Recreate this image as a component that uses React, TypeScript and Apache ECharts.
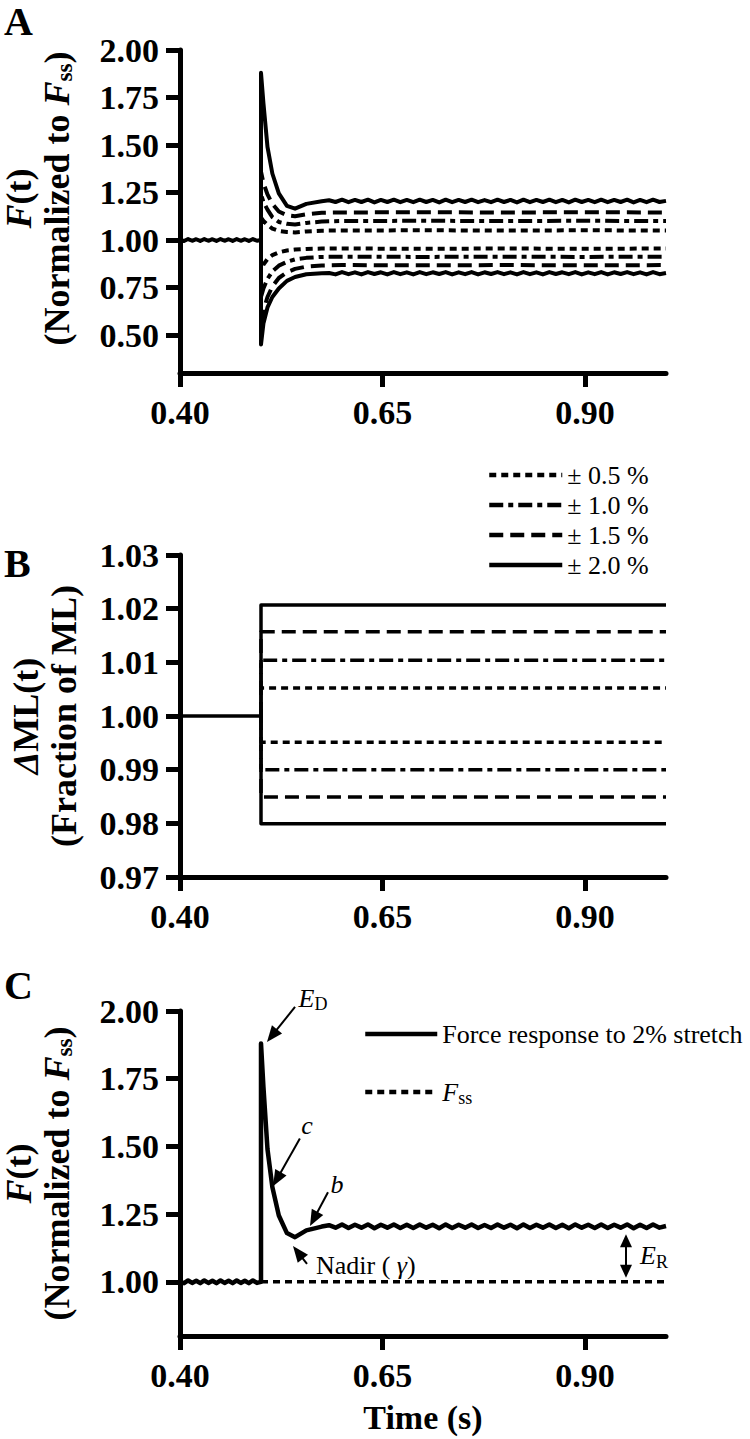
import React, { useEffect, useRef } from 'react';
import * as echarts from 'echarts';

// ---------------- DATA ----------------
const xTicks = [0.40, 0.65, 0.90];
const yTicksA = [0.50, 0.75, 1.00, 1.25, 1.50, 1.75, 2.00];
const yTicksB = [0.97, 0.98, 0.99, 1.00, 1.01, 1.02, 1.03];
const yTicksC = [1.00, 1.25, 1.50, 1.75, 2.00];

// pre-stretch force (normalized), t in s
const preT = [0.400, 0.405, 0.410, 0.415, 0.420, 0.425, 0.430, 0.435, 0.440, 0.445, 0.450,
  0.455, 0.460, 0.465, 0.470, 0.475, 0.480, 0.485, 0.490, 0.495, 0.500];
const preF = [1.000, 0.995, 1.005, 0.996, 1.004, 0.995, 1.005, 0.996, 1.004, 0.995, 1.005,
  0.996, 1.004, 0.995, 1.005, 0.996, 1.004, 0.995, 1.005, 0.996, 1.000];

// transient right after the stretch at t = 0.50 s
const decayT = [0.500, 0.500, 0.503, 0.508, 0.514, 0.522, 0.532, 0.542, 0.556, 0.575];
const up20Decay = [1.000, 1.880, 1.720, 1.490, 1.350, 1.245, 1.180, 1.165, 1.190, 1.204];
const up15Decay = [1.000, 1.360, 1.300, 1.240, 1.190, 1.150, 1.130, 1.125, 1.135, 1.143];
const up10Decay = [1.000, 1.240, 1.200, 1.160, 1.120, 1.095, 1.085, 1.082, 1.090, 1.097];
const up05Decay = [1.000, 1.120, 1.100, 1.080, 1.060, 1.048, 1.042, 1.040, 1.045, 1.049];
const dn05Decay = [1.000, 0.840, 0.870, 0.900, 0.920, 0.935, 0.945, 0.950, 0.953, 0.955];
const dn10Decay = [1.000, 0.700, 0.745, 0.795, 0.835, 0.865, 0.885, 0.898, 0.906, 0.911];
const dn15Decay = [1.000, 0.560, 0.630, 0.700, 0.755, 0.800, 0.830, 0.848, 0.860, 0.866];
const dn20Decay = [1.000, 0.450, 0.560, 0.645, 0.700, 0.745, 0.785, 0.805, 0.820, 0.825];

// steady state (with small oscillation) for the 2% stretch
const tailT = [0.584, 0.592, 0.600, 0.608, 0.616, 0.624, 0.632, 0.640, 0.648, 0.656,
  0.664, 0.672, 0.680, 0.688, 0.696, 0.704, 0.712, 0.720, 0.728, 0.736,
  0.744, 0.752, 0.760, 0.768, 0.776, 0.784, 0.792, 0.800, 0.808, 0.816,
  0.824, 0.832, 0.840, 0.848, 0.856, 0.864, 0.872, 0.880, 0.888, 0.896,
  0.904, 0.912, 0.920, 0.928, 0.936, 0.944, 0.952, 0.960, 0.968, 0.976,
  0.984, 0.992, 1.000];
const up20Tail = [1.209, 1.200, 1.212, 1.199, 1.211, 1.200, 1.212, 1.198, 1.211, 1.200,
  1.212, 1.199, 1.211, 1.199, 1.212, 1.200, 1.211, 1.198, 1.212, 1.199,
  1.211, 1.200, 1.212, 1.199, 1.210, 1.199, 1.212, 1.200, 1.211, 1.198,
  1.212, 1.199, 1.211, 1.200, 1.212, 1.199, 1.211, 1.198, 1.212, 1.200,
  1.211, 1.199, 1.212, 1.199, 1.211, 1.200, 1.212, 1.198, 1.211, 1.199,
  1.212, 1.200, 1.206];
const dn20Tail = [0.826, 0.819, 0.831, 0.820, 0.830, 0.819, 0.831, 0.821, 0.830, 0.819,
  0.831, 0.820, 0.830, 0.819, 0.831, 0.820, 0.830, 0.821, 0.831, 0.819,
  0.830, 0.820, 0.831, 0.819, 0.830, 0.821, 0.831, 0.820, 0.830, 0.819,
  0.831, 0.820, 0.830, 0.819, 0.831, 0.821, 0.830, 0.820, 0.831, 0.819,
  0.830, 0.820, 0.831, 0.819, 0.830, 0.821, 0.831, 0.820, 0.830, 0.819,
  0.831, 0.820, 0.826];

// steady state of the smaller stretches
const tailCoarseT = [0.60, 0.70, 0.80, 0.90, 1.00];
const up15Tail = [1.145, 1.146, 1.145, 1.146, 1.145];
const up10Tail = [1.100, 1.101, 1.100, 1.101, 1.100];
const up05Tail = [1.050, 1.051, 1.050, 1.051, 1.050];
const dn05Tail = [0.955, 0.954, 0.955, 0.954, 0.955];
const dn10Tail = [0.912, 0.911, 0.912, 0.911, 0.912];
const dn15Tail = [0.868, 0.867, 0.868, 0.867, 0.868];

// panel B: muscle length steps
const stretchLabels = ['± 0.5 %', '± 1.0 %', '± 1.5 %', '± 2.0 %'];
const stepUp = [1.0052, 1.0104, 1.0157, 1.0207];
const stepDown = [0.9951, 0.9900, 0.9849, 0.9799];
const stepT = [0.500, 0.500, 1.000];
const mlPreT = [0.400, 0.500];
const mlPreV = [1.000, 1.000];

// panel C: steady-state force reference
const fssT = [0.500, 1.000];
const fssV = [1.000, 1.000];

// ---------------- STYLE ----------------
const SERIF = '"Liberation Serif", "Times New Roman", serif';
const DOT = [7, 5];
const DASHDOT = [14, 5, 5, 5];
const DASH = [14, 7];
const dashes = [DOT, DASHDOT, DASH, 'solid'];

const pairs = (ts: number[], vs: number[]) => ts.map((t, i) => [t, vs[i]]);

const line = (name: string, idx: number, data: number[][], width: number, type: any) => ({
  type: 'line',
  name,
  xAxisIndex: idx,
  yAxisIndex: idx,
  data,
  symbol: 'none',
  showSymbol: false,
  silent: true,
  emphasis: { disabled: true },
  itemStyle: { color: '#000' },
  lineStyle: { color: '#000', width, type, join: 'round', cap: 'butt' },
});

const axisLineStyle = { show: true, onZero: false, lineStyle: { color: '#000', width: 5, cap: 'round' } };
const tickStyle = (vals: number[]) => ({
  show: true, inside: false, length: 14, customValues: vals,
  lineStyle: { color: '#000', width: 5 },
});
const labelStyle = (vals: number[], margin: number) => ({
  show: true, customValues: vals, margin, color: '#000',
  fontFamily: SERIF, fontWeight: 'bold', fontSize: 34,
  formatter: (v: number) => v.toFixed(2),
});

const nameRich = {
  b: { fontFamily: SERIF, fontWeight: 'bold', fontSize: 36, lineHeight: 38, color: '#000' },
  it: { fontFamily: SERIF, fontWeight: 'bold', fontStyle: 'italic', fontSize: 36, lineHeight: 38, color: '#000' },
  sub: { fontFamily: SERIF, fontWeight: 'bold', fontSize: 23, verticalAlign: 'bottom', color: '#000' },
};

const forceName = '{it|F}{b|(t)}\n{b|(Normalized to }{it|F}{sub|ss}{b|)}';
const mlName = '{it|Δ}{b|ML(t)}\n{b|(Fraction of ML)}';

// annotation anchors (data coordinates of panel C)
const annot = {
  ed: { label: [0.5642, 2.048], tail: [0.542, 2.015], tip: [0.5074, 1.886] },
  c: { label: [0.5568, 1.577], tail: [0.548, 1.529], tip: [0.5148, 1.353] },
  b: { label: [0.5938, 1.360], tail: [0.5827, 1.331], tip: [0.5605, 1.206] },
  nadir: { label: [0.5679, 1.059], tail: [0.5568, 1.066], tip: [0.5395, 1.132] },
  er: { label: [0.968, 1.096], top: [0.9506, 1.176], bottom: [0.9506, 1.015] },
};

function arrowEls(p0: number[], p1: number[], both = false, H = 16, W = 6.5) {
  const dx = p1[0] - p0[0];
  const dy = p1[1] - p0[1];
  const L = Math.hypot(dx, dy);
  const ux = dx / L, uy = dy / L;
  const px = -uy, py = ux;
  const head = (tx: number, ty: number, vx: number, vy: number) => ({
    type: 'polygon',
    silent: true,
    shape: {
      points: [
        [tx, ty],
        [tx - vx * H + px * W, ty - vy * H + py * W],
        [tx - vx * H - px * W, ty - vy * H - py * W],
      ],
    },
    style: { fill: '#000' },
  });
  const s = both ? [p0[0] + ux * H * 0.8, p0[1] + uy * H * 0.8] : p0;
  const e = [p1[0] - ux * H * 0.8, p1[1] - uy * H * 0.8];
  const els: any[] = [
    { type: 'line', silent: true, shape: { x1: s[0], y1: s[1], x2: e[0], y2: e[1] }, style: { stroke: '#000', lineWidth: 2 } },
    head(p1[0], p1[1], ux, uy),
  ];
  if (both) els.push(head(p0[0], p0[1], -ux, -uy));
  return els;
}

const annRich = {
  i: { fontFamily: SERIF, fontStyle: 'italic', fontSize: 26, lineHeight: 30, color: '#000' },
  r: { fontFamily: SERIF, fontSize: 26, lineHeight: 30, color: '#000' },
  s: { fontFamily: SERIF, fontSize: 18, verticalAlign: 'bottom', color: '#000' },
};

function textEl(p: number[], text: string, align: string) {
  return {
    type: 'text', silent: true, x: p[0], y: p[1],
    style: {
      text, rich: annRich, fill: '#000', fontFamily: SERIF, fontSize: 26,
      align, textAlign: align, verticalAlign: 'middle', textVerticalAlign: 'middle',
    },
  };
}

function letterEl(text: string, y: number, va: string) {
  return {
    type: 'text', silent: true, x: 4, y,
    style: {
      text, fill: '#000', fontFamily: SERIF, fontWeight: 'bold', fontSize: 40,
      align: 'left', textAlign: 'left', verticalAlign: va, textVerticalAlign: va,
    },
  };
}

export default function App() {
  const ref = useRef<HTMLDivElement>(null);

  useEffect(() => {
    if (!ref.current) return;
    const chart = echarts.init(ref.current, null, { renderer: 'svg' });

    const grids = [
      { left: 180, top: 50, width: 486, height: 323, outerBoundsMode: 'none' },
      { left: 180, top: 555, width: 486, height: 322, outerBoundsMode: 'none' },
      { left: 180, top: 1011, width: 486, height: 325, outerBoundsMode: 'none' },
    ];

    const xAxes = [0, 1, 2].map((i) => ({
      type: 'value', gridIndex: i, min: 0.40, max: 1.00,
      axisLine: axisLineStyle, axisTick: tickStyle(xTicks), axisLabel: labelStyle(xTicks, 22),
      splitLine: { show: false },
      ...(i === 2
        ? {
            name: 'Time (s)', nameLocation: 'middle', nameGap: 64, nameMoveOverlap: false,
            nameTextStyle: { fontFamily: SERIF, fontWeight: 'bold', fontSize: 34, color: '#000' },
          }
        : {}),
    }));

    const yAxis = (i: number, min: number, max: number, ticks: number[], name: string, gap: number, pad: number[]) => ({
      type: 'value', gridIndex: i, min, max,
      axisLine: axisLineStyle, axisTick: tickStyle(ticks), axisLabel: labelStyle(ticks, 21),
      splitLine: { show: false },
      name, nameLocation: 'middle', nameRotate: 90, nameGap: gap, nameMoveOverlap: false,
      nameTextStyle: { rich: nameRich, align: 'center', padding: pad, fontFamily: SERIF, fontWeight: 'bold', fontSize: 36 },
    });

    const series: any[] = [];
    // Panel A
    const upDecays = [up05Decay, up10Decay, up15Decay];
    const dnDecays = [dn05Decay, dn10Decay, dn15Decay];
    const upTails = [up05Tail, up10Tail, up15Tail];
    const dnTails = [dn05Tail, dn10Tail, dn15Tail];
    for (let k = 0; k < 3; k++) {
      series.push(line('A up ' + k, 0, pairs(decayT, upDecays[k]).concat(pairs(tailCoarseT, upTails[k])), 4, dashes[k]));
      series.push(line('A dn ' + k, 0, pairs(decayT, dnDecays[k]).concat(pairs(tailCoarseT, dnTails[k])), 4, dashes[k]));
    }
    series.push(line('A base', 0, pairs(preT, preF), 4, 'solid'));
    series.push(line('A up 2', 0, pairs(decayT, up20Decay).concat(pairs(tailT, up20Tail)), 4, 'solid'));
    series.push(line('A dn 2', 0, pairs(decayT, dn20Decay).concat(pairs(tailT, dn20Tail)), 4, 'solid'));

    // Panel B
    series.push(line('B base', 1, pairs(mlPreT, mlPreV), 3.5, 'solid'));
    for (let k = 0; k < 4; k++) {
      series.push(line(stretchLabels[k], 1, pairs(stepT, [1.0, stepUp[k], stepUp[k]]), 3.5, dashes[k]));
      series.push(line(stretchLabels[k], 1, pairs(stepT, [1.0, stepDown[k], stepDown[k]]), 3.5, dashes[k]));
    }

    // Panel C
    series.push(line('Fss', 2, pairs(fssT, fssV), 3.5, DOT));
    series.push(line('Force response to 2% stretch', 2,
      pairs(preT, preF).concat(pairs(decayT, up20Decay), pairs(tailT, up20Tail)), 4.5, 'solid'));

    const letters = [letterEl('A', 1, 'top'), letterEl('B', 563, 'middle'), letterEl('C', 985, 'middle')];

    const option: any = {
      animation: false,
      backgroundColor: '#ffffff',
      grid: grids,
      xAxis: xAxes,
      yAxis: [
        yAxis(0, 0.30, 2.00, yTicksA, forceName, 104, [0, 0, 0, 26]),
        yAxis(1, 0.97, 1.03, yTicksB, mlName, 97, [0, 0, 0, 0]),
        yAxis(2, 0.80, 2.00, yTicksC, forceName, 104, [0, 0, 0, 0]),
      ],
      legend: [
        {
          orient: 'vertical', left: 487, top: 460, padding: 0,
          itemWidth: 73, itemHeight: 14, itemGap: 0,
          selectedMode: false,
          data: stretchLabels,
          itemStyle: { opacity: 0 },
          lineStyle: { width: 4.5 },
          textStyle: { fontFamily: SERIF, fontSize: 26, color: '#000', lineHeight: 30 },
        },
        {
          orient: 'vertical', left: 363, top: 1019, padding: 0,
          itemWidth: 72, itemHeight: 14, itemGap: 28,
          selectedMode: false,
          data: ['Force response to 2% stretch', 'Fss'],
          itemStyle: { opacity: 0 },
          lineStyle: { width: 4.5 },
          formatter: (n: string) => (n === 'Fss' ? '{i|F}{s|ss}' : n),
          textStyle: {
            fontFamily: SERIF, fontSize: 26, color: '#000', lineHeight: 30,
            rich: annRich,
          },
        },
      ],
      series,
      graphic: letters,
    };

    chart.setOption(option);

    const P = (d: number[]) => chart.convertToPixel({ gridIndex: 2 } as any, d) as number[];
    const g: any[] = [...letters];
    g.push(textEl(P(annot.ed.label), '{i|E}{s|D}', 'center'));
    g.push(...arrowEls(P(annot.ed.tail), P(annot.ed.tip)));
    g.push(textEl(P(annot.c.label), '{i|c}', 'center'));
    g.push(...arrowEls(P(annot.c.tail), P(annot.c.tip)));
    g.push(textEl(P(annot.b.label), '{i|b}', 'center'));
    g.push(...arrowEls(P(annot.b.tail), P(annot.b.tip)));
    g.push(textEl(P(annot.nadir.label), '{r|Nadir ( }{i|γ}{r|)}', 'left'));
    g.push(...arrowEls(P(annot.nadir.tail), P(annot.nadir.tip)));
    g.push(textEl(P(annot.er.label), '{i|E}{s|R}', 'left'));
    g.push(...arrowEls(P(annot.er.top), P(annot.er.bottom), true, 13, 6));
    chart.setOption({ graphic: g }, { replaceMerge: ['graphic'] });

    return () => chart.dispose();
  }, []);

  return (
    <div
      ref={ref}
      style={{ position: 'absolute', left: 0, top: 0, width: 750, height: 1439, background: '#fff' }}
    />
  );
}
